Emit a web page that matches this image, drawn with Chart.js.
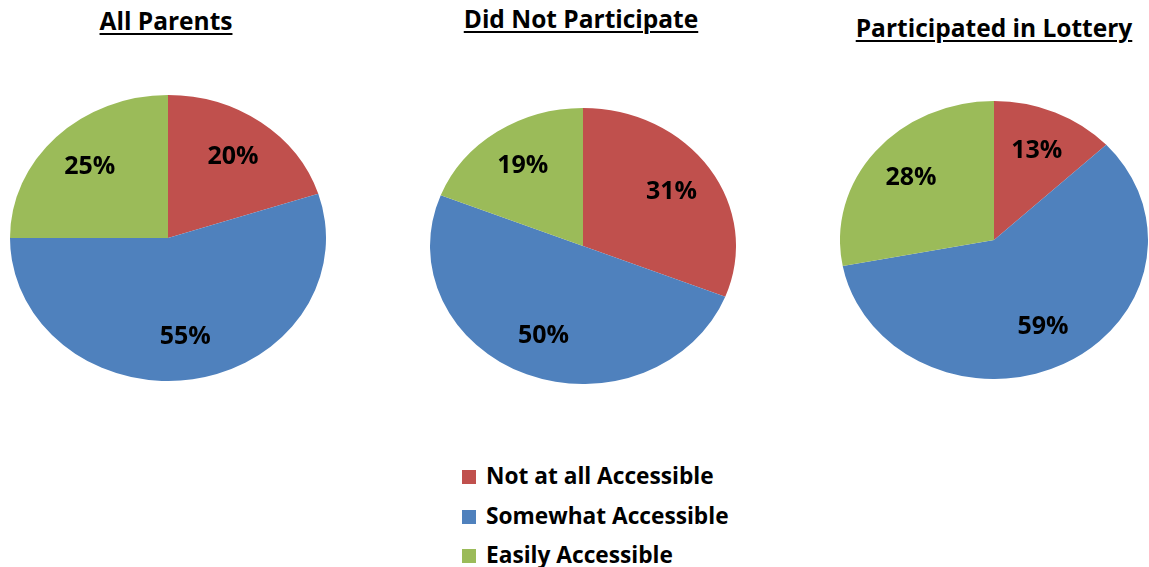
<!DOCTYPE html>
<html lang="en">
<head>
    <meta charset="UTF-8">
    <title>Accessibility by Lottery Participation</title>
    <script src="https://cdn.jsdelivr.net/npm/chart.js"></script>
    <style>
        body {
            margin: 0;
            width: 1149px;
            height: 567px;
            background: #ffffff;
            font-family: 'Open Sans', sans-serif;
            position: relative;
            overflow: hidden;
        }
        .title {
            position: absolute;
            font-weight: bold;
            font-size: 24.5px;
            line-height: 30px;
            text-decoration: underline;
            text-decoration-thickness: 2px;
            text-underline-offset: 3px;
            white-space: nowrap;
            transform: translateX(-50%);
            color: #000;
        }
        .pie {
            position: absolute;
        }
        #legend {
            position: absolute;
            left: 462px;
            top: 461px;
            font-weight: bold;
            font-size: 22.7px;
            line-height: 30px;
        }
        .item {
            height: 39.5px;
            display: flex;
            align-items: flex-start;
            white-space: nowrap;
        }
        .box {
            width: 14px;
            height: 14px;
            margin-top: 9px;
            margin-right: 10px;
        }
    </style>
</head>
<body>
    <div class="title" style="left:166px; top:6px;">All Parents</div>
    <div class="title" style="left:581px; top:4px;">Did Not Participate</div>
    <div class="title" style="left:994px; top:13px;">Participated in Lottery</div>

    <div class="pie" style="left:10px; top:95px; width:316px; height:286px;"><canvas id="pie1"></canvas></div>
    <div class="pie" style="left:430px; top:108px; width:306px; height:276px;"><canvas id="pie2"></canvas></div>
    <div class="pie" style="left:840px; top:101px; width:308px; height:278px;"><canvas id="pie3"></canvas></div>

    <div id="legend"></div>

    <script>
        const categories = ["Not at all Accessible", "Somewhat Accessible", "Easily Accessible"];
        const colors = ["#C0504D", "#4F81BD", "#9BBB59"];

        const allParents = [20, 55, 25];
        const didNotParticipate = [31, 50, 19];
        const participatedInLottery = [13, 59, 28];

        // stretch the round pie sideways a little, the original pies are oval
        const ovalPlugin = {
            id: 'oval',
            beforeDatasetsDraw(chart) {
                const arc = chart.getDatasetMeta(0).data[0];
                const sx = (chart.chartArea.width / 2) / arc.outerRadius;
                const ctx = chart.ctx;
                ctx.save();
                ctx.translate(arc.x, arc.y);
                ctx.scale(sx, 1);
                ctx.translate(-arc.x, -arc.y);
            },
            afterDatasetsDraw(chart) {
                chart.ctx.restore();
            }
        };

        // percent labels inside each slice
        const labelPlugin = {
            id: 'pctLabels',
            afterDatasetsDraw(chart) {
                const ctx = chart.ctx;
                const meta = chart.getDatasetMeta(0);
                const values = chart.data.datasets[0].data;
                ctx.save();
                ctx.font = "bold 25px 'Open Sans', sans-serif";
                ctx.fillStyle = "#000";
                ctx.textAlign = "center";
                ctx.textBaseline = "middle";
                meta.data.forEach((arc, i) => {
                    const sx = (chart.chartArea.width / 2) / arc.outerRadius;
                    const mid = (arc.startAngle + arc.endAngle) / 2;
                    const d = arc.outerRadius * 0.7;
                    const x = arc.x + Math.cos(mid) * d * sx;
                    const y = arc.y + Math.sin(mid) * d;
                    ctx.fillText(values[i] + "%", x, y);
                });
                ctx.restore();
            }
        };

        function makePie(id, values) {
            new Chart(document.getElementById(id), {
                type: 'pie',
                data: {
                    labels: categories,
                    datasets: [{
                        data: values,
                        backgroundColor: colors,
                        borderWidth: 0
                    }]
                },
                options: {
                    responsive: true,
                    maintainAspectRatio: false,
                    animation: false,
                    layout: { padding: 0 },
                    plugins: {
                        legend: { display: false },
                        tooltip: { enabled: false }
                    }
                },
                plugins: [ovalPlugin, labelPlugin]
            });
        }

        makePie('pie1', allParents);
        makePie('pie2', didNotParticipate);
        makePie('pie3', participatedInLottery);

        const legend = document.getElementById('legend');
        categories.forEach((name, i) => {
            const row = document.createElement('div');
            row.className = 'item';
            row.innerHTML = '<span class="box" style="background:' + colors[i] + '"></span><span>' + name + '</span>';
            legend.appendChild(row);
        });
    </script>
</body>
</html>
